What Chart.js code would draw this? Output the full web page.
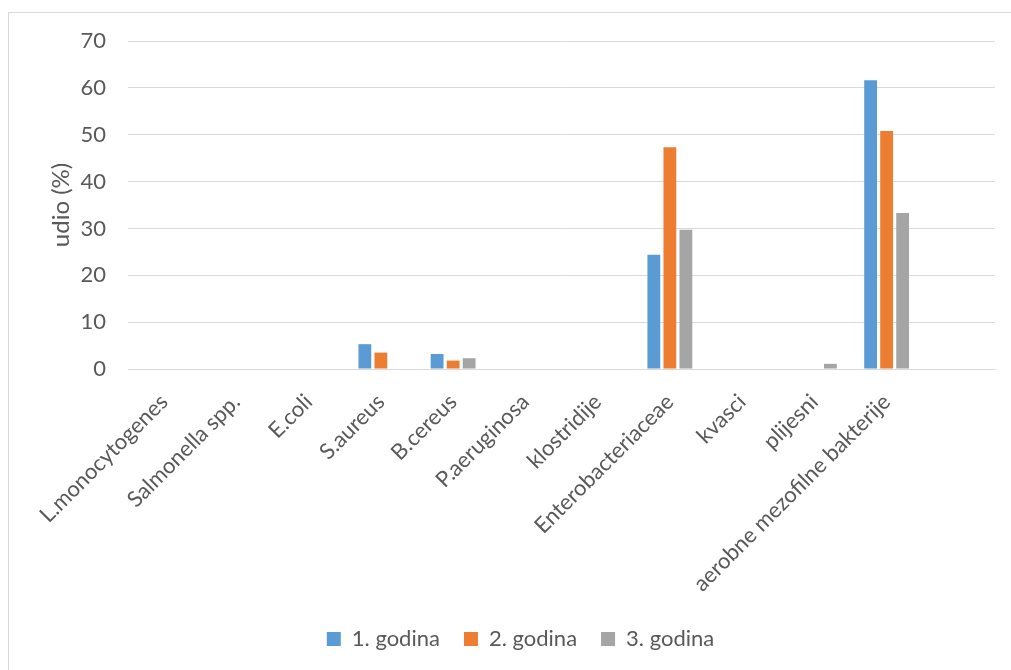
<!DOCTYPE html>
<html>
<head>
<meta charset="utf-8">
<script src="https://cdn.jsdelivr.net/npm/chart.js@4.4.1/dist/chart.umd.min.js"></script>
<style>
  html, body { margin: 0; padding: 0; background: #fff; overflow: hidden; }
  #frame { position: absolute; left: 8px; top: 12px; width: 1100px; height: 800px;
           border-top: 1px solid #d9d9d9; border-left: 1px solid #d9d9d9; }
  #wrap { position: absolute; left: 0; top: 0; width: 1011px; height: 670px; }
</style>
</head>
<body>
<div id="frame"></div>
<div id="wrap"><canvas id="myChart" width="1011" height="670"></canvas></div>
<script>
// categories (last slot is empty, as in the original sheet)
const categories = ['L.monocytogenes', 'Salmonella spp.', 'E.coli', 'S.aureus', 'B.cereus',
  'P.aeruginosa', 'klostridije', 'Enterobacteriaceae', 'kvasci', 'plijesni',
  'aerobne mezofilne bakterije', ''];

const godina1 = [0, 0, 0, 5.3, 3.2, 0, 0, 24.4, 0, 0, 61.6, null];
const godina2 = [0, 0, 0, 3.5, 1.8, 0, 0, 47.3, 0, 0, 50.8, null];
const godina3 = [0, 0, 0, 0, 2.3, 0, 0, 29.7, 0, 1.1, 33.3, null];

const seriesNames = ['1. godina', '2. godina', '3. godina'];
const yTicks = [0, 10, 20, 30, 40, 50, 60, 70];

const textColor = '#595959';
const fontFam = 'Lato, "Open Sans", sans-serif';

const ctx = document.getElementById('myChart').getContext('2d');

const myChart = new Chart(ctx, {
    type: 'bar',
    data: {
        labels: categories,
        datasets: [
            { label: seriesNames[0], data: godina1, backgroundColor: '#5B9BD5' },
            { label: seriesNames[1], data: godina2, backgroundColor: '#ED7D31' },
            { label: seriesNames[2], data: godina3, backgroundColor: '#A5A5A5' }
        ]
    },
    options: {
        responsive: false,
        animation: false,
        layout: {
            padding: { left: 46, right: 16, top: 41, bottom: 10 }
        },
        datasets: {
            bar: { categoryPercentage: 0.665, barPercentage: 0.8 }
        },
        scales: {
            x: {
                grid: { display: false },
                border: { display: true, color: '#d9d9d9', width: 1 },
                ticks: {
                    color: textColor,
                    font: { family: fontFam, size: 22 },
                    minRotation: 45,
                    maxRotation: 45,
                    autoSkip: false,
                    padding: 12
                },
                afterFit: function (scale) { scale.height = 235; }
            },
            y: {
                min: 0,
                max: yTicks[yTicks.length - 1],
                afterBuildTicks: function (scale) {
                    scale.ticks = yTicks.map(v => ({ value: v }));
                },
                grid: { color: '#d9d9d9', lineWidth: 1, drawTicks: false },
                border: { display: false },
                ticks: {
                    color: textColor,
                    font: { family: fontFam, size: 22 },
                    padding: 22
                },
                title: {
                    display: true,
                    text: 'udio (%)',
                    color: textColor,
                    font: { family: fontFam, size: 24 },
                    padding: { top: 1, bottom: 0 }
                },
                afterFit: function (scale) { scale.width = 82; }
            }
        },
        plugins: {
            legend: {
                position: 'bottom',
                labels: {
                    color: textColor,
                    font: { family: fontFam, size: 22 },
                    boxWidth: 14,
                    boxHeight: 14,
                    padding: 24
                }
            },
            tooltip: { enabled: false }
        }
    }
});
</script>
</body>
</html>
